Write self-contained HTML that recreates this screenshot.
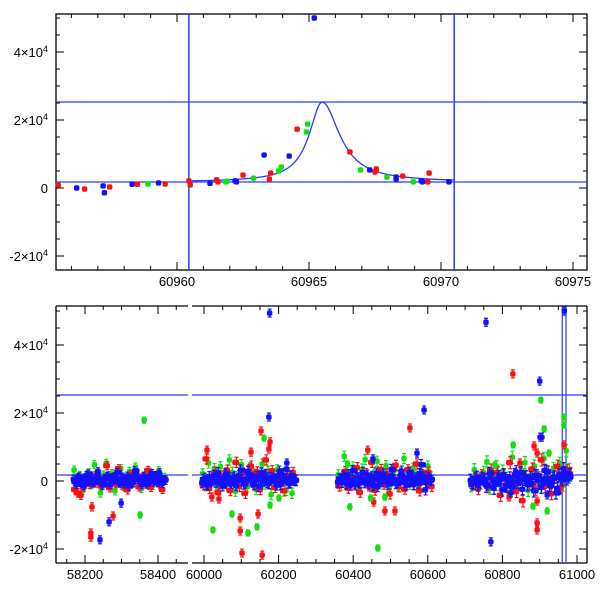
<!DOCTYPE html>
<html><head><meta charset="utf-8"><style>
html,body{margin:0;padding:0;background:#fff;}
svg{display:block;font-family:"Liberation Sans",sans-serif;}
</style></head><body>
<svg id="chart" width="600" height="600" viewBox="0 0 600 600"></svg>
<script>
// ---------- top panel data (MJD, flux) ----------
const topRedT=[60955.5,60956.5,60957.45,60958.5,60959.55,60960.45,60960.5,60961.5,60961.55,60962.5,60963.5,60963.55,60964.55,60966.55,60967.5,60967.55,60968.55,60969.5,60969.55];
const topRedV=[900,-300,300,1100,1200,2100,900,2400,1800,3800,2600,4400,17300,10600,4700,5600,3500,1800,4400];
const topGreenT=[60958.9,60961.85,60961.9,60962.9,60963.85,60963.95,60964.9,60964.95,60966.95,60967.95,60968.95];
const topGreenV=[1200,1800,2000,2900,5000,6200,16500,18800,5300,3200,1800];
const topBlueT=[60956.2,60957.2,60957.25,60958.3,60959.3,60961.25,60962.2,60962.25,60963.3,60964.25,60965.2,60967.3,60968.3,60968.3,60969.25,60969.3,60970.3];
const topBlueV=[0,600,-1400,1100,1500,1400,2100,1800,9700,9400,50000,5300,3200,2600,2100,1800,1800];
// model parameters
const modelPeakT=60965.5, modelPeakV=25300, modelBase=1760, modelWL=0.6, modelWR=0.8;
const modelStart=60960.5, modelEnd=60970.5;
const vLines=[60960.45,60970.5];
const hLines=[25300,1760];
// ---------- bottom panel outliers ----------
const botRedT=[58216,58216,58219,58277,60008,60021,60040,60097,60097,60102,60126,60145,60153,60156,60174,60177,60439,60455,60485,60512,60552,60818,60828,60847,60885,60893,60893,60893,60893,60965];
const botRedV=[-15300,-16500,-7600,-10300,9100,-4700,-5300,-10900,-14700,-21200,8500,-9700,14700,-21800,9400,11500,9100,-6200,-8800,-8800,15600,-4700,31500,5300,10300,8200,-5900,-12300,-14400,10600];
const botGreenT=[58362,58351,60024,60075,60118,60142,60161,60177,60201,60385,60391,60447,60466,60485,60780,60829,60882,60903,60912,60920,60925,60965,60965];
const botGreenV=[17900,-10000,-14400,-9700,-15300,-13500,12600,-7100,-5000,5000,-7600,-5000,-19700,-4700,4700,10600,-7400,23800,15300,-8800,8200,18800,16500];
const botBlueT=[58241,58266,58299,60174,60176,60222,60453,60571,60590,60756,60769,60823,60900,60901,60906,60920,60966];
const botBlueV=[-17300,-12000,-6500,18800,49400,5300,6500,8200,20900,46700,-17900,-3500,29400,12900,12900,-4100,50000];
// ---------- bottom panel dense band (cluster start MJD, spacing, values in 1e3) ----------
const bandStart=[58168,59994,60358,60714];
const bandStep=[8,8,8,8.5];
const bandBlue=[
[0.5,-1,1.2,0.3,-0.8,2,0.6,-0.4,1,0.2,-1.2,0.8,1.5,-0.3,0.4,2.5,-0.6,1.1,0.1,-1.5,0.9,3,0.5,-0.2,1.3,-0.9,0.7,2.2,0.2,-0.5,1,0.4],
[-0.5,0.8,-1.1,0.4,1.6,-0.2,0.9,-1.4,2.1,0.3,-0.7,1.2,0.1,3.2,-0.9,0.6,1.8,-0.3,0.5,-1.6,2.4,0.2,-0.4,1,0.7,-1.2,2.9,0.3,0.8,-0.6,1.5,0.2],
[-0.3,0.6,1.4,-0.8,0.2,3,-1.1,0.9,0.4,-0.5,1.7,0.1,-1.3,2.3,0.5,-0.2,1.1,-0.9,3.4,0.3,-0.4,1.6,0.8,-1.2,2.6,0.2,0.9,-0.6,4.8,1.2,-0.3,0.5],
[0.2,-0.7,1.1,-0.3,0.6,-1.5,2.2,0.4,-0.9,1.3,-2.6,0.7,0.1,-1.8,1.9,-0.4,2.4,0.5,-1.1,0.9,-2.9,1.5,0.3,-0.6,2.8,-1.3,0.8,-3.5,1.7,0.4,2.1,1.2]];
const bandBlue2=[
[-0.2,0.9,0.3,-1.3,1.6,0.1,-0.6,0.8,2.7,-0.4,0.5,1.3,-1,0.2,1.9,-0.3,0.7,-0.8,1.4,0.3,-0.5,2,0.6,-1.1,0.9,0.1,1.7,-0.2,0.5,2.4,-0.7,0.3],
[0.4,-1,1.3,0.2,-0.3,2.4,-0.8,0.6,1.1,-0.2,0.9,-1.3,1.6,0.4,-0.5,2.8,0.3,-0.9,1.2,0.5,-0.1,1.9,-0.7,0.8,0.2,1.4,-1,0.6,3.5,-0.3,0.7,0.1],
[0.5,-0.4,0.9,1.8,-1.2,0.3,0.7,-0.6,2.5,0.1,-0.9,1.2,0.4,-1.6,0.8,2,-0.3,0.6,1.3,-0.7,0.2,2.9,-0.5,0.9,1.5,-1,0.4,2.2,0.7,-2.6,1,0.2],
[-0.4,0.5,-1.2,0.8,0.2,-0.9,1.4,-2.1,0.6,0.3,1.8,-1.5,0.9,-0.3,2.7,0.5,-2.4,1.1,0.2,-0.8,1.6,0.4,-1.9,3.1,0.7,-0.5,1.2,-2.2,0.9,3.6,0.6,1.8]];
const bandRed=[
[-2.5,-3.5,-4.2,-1.8,0.8,-1,1.5,-0.6,2.2,-1.4,0.3,4.5,-2,1,-0.8,3.6,-1.2,0.5,-2.6,1.8,-0.4,2.4,-1.7,0.9,-0.5,3.1,-1.9,0.6,1.4,-0.9,-2.5,0.2],
[-1.1,6.5,-2.2,0.9,2.6,-3.4,1.5,-0.7,3.2,-2.8,0.4,5.5,-1.6,2,-3.6,0.8,4.4,-1.2,2.7,-2.5,1.1,6.2,-0.8,3,-1.9,0.5,2.2,-2.9,1.3,-0.6,2.5,0.3],
[-1.5,0.7,2.8,-2.1,1.2,-0.8,3.9,-3.3,0.6,2.2,-1.4,5.5,-2.7,1,3.4,-0.9,2.1,-3.8,0.8,4.6,-1.7,1.5,-2.4,3.3,0.4,-1.1,5,-2.9,1.7,-0.5,2.6,-1.6],
[-0.9,0.8,-2.2,1.5,0.4,-1.6,3.2,-0.7,2.4,-4.2,1.8,-1.1,5.4,0.6,-3.1,2.1,-5.8,1.3,-0.8,3.5,-2.4,0.9,6.2,-1.6,2.6,-3.7,1.1,4.3,-2,0.7,3,2.2]];
const bandGreen=[
[3.2,-0.5,1.6,-2.8,0.9,2.4,-1.1,4.8,0.3,-3.5,1.7,5.2,-0.8,2.1,-2.9,1.2,3.6,-1.6,0.7,2.8,-0.4,4.1,1,-2.2,1.5,0.4,2.6,-1.3,0.8,3,-0.6,1.1],
[2.1,-1.4,5.3,0.9,3.6,-2.1,4.2,1.5,-0.8,6.2,2.5,-3,1.1,4.8,0.6,-1.7,3.9,2.2,-2.5,1.4,5,-0.9,2.8,-4,1.6,3.3,-1.2,0.8,-2.8,2.4,-3.6,0.5],
[1.8,-1.2,7.3,2.9,-0.6,4.1,1.2,-2.4,3.5,6.3,0.8,-1.7,2.6,5.8,-0.9,1.9,4.5,-2.3,1,3.2,-1.5,2.4,6.6,0.5,-1,3.8,1.4,-2,2.7,0.6,4.4,1.2],
[-1.4,3.3,0.8,-0.6,2.5,5.6,-2.1,1.3,4.2,-1.1,2.9,0.6,-3.5,7,1.8,-0.7,3.1,5.4,-2.8,1.6,4.4,0.9,-1.8,6.6,2.1,-0.4,3.7,1.2,5.2,-1.2,8.9,3.4]];
const bandErr=[1.2,1.5,1.5,1.8];

const NS='http://www.w3.org/2000/svg';
const svg=document.getElementById('chart');
function mk(tag,attrs,parent){const e=document.createElementNS(NS,tag);for(const k in attrs)e.setAttribute(k,attrs[k]);(parent||svg).appendChild(e);return e;}

const COL={red:'#ff1010',green:'#10e010',blue:'#1010ff'};
const LINE='#2a3cff';

const TOP={l:56,r:587,t:14,b:270};
const BOT={l:56,r:587,t:306,b:563};
function xTop(t){return 177+(t-60960)*26.4;}
function yTop(v){return 188-v*68/20000;}
function xBot(t){return t<59500?85+(t-58200)*0.365:204+(t-60000)*0.373;}
function yBot(v){return 481-v*68/20000;}
const BRK1=188,BRK2=192;

function yLabel(g,y,mant,neg){
  const tx=mk('text',{x:48,y:y+5,'text-anchor':'end','font-size':'13',fill:'#000'},g);
  tx.textContent=(neg?'-':'')+mant+'\u00d710';
  const s=mk('tspan',{dy:'-5','font-size':'9'},tx); s.textContent='4';
  
  
}
function yTicks(g,P,yf){
  for(let v=-20000;v<=50000;v+=5000){
    const y=yf(v); if(y<P.t||y>P.b)continue;
    const len=v%20000===0?8:4;
    mk('line',{x1:P.l,x2:P.l+len,y1:y,y2:y,stroke:'#000','stroke-width':1},g);
    mk('line',{x1:P.r,x2:P.r-len,y1:y,y2:y,stroke:'#000','stroke-width':1},g);
    if(v%20000===0){ if(v===0){const tx=mk('text',{x:48,y:y+5,'text-anchor':'end','font-size':'13'},g);tx.textContent='0';}
      else yLabel(g,y,Math.abs(v/10000),v<0);}
  }
}
function pt(g,x,y,c,P,err){
  if(y<P.t+2||y>P.b-2||x<P.l+1||x>P.r-1)return;
  if(err){
    const eb=mk('path',{d:`M${x},${y-err}V${y+err}M${x-2},${y-err}H${x+2}M${x-2},${y+err}H${x+2}`,stroke:c,'stroke-width':1.2,fill:'none'},g);
    
    
  }
  const e=mk('rect',{x:x-2.7,y:y-2.7,width:5.4,height:5.4,rx:1.8,fill:c},g);
  
  
}

// ===== top panel =====
const gTop=mk('g',{});


mk('rect',{x:TOP.l,y:TOP.t,width:TOP.r-TOP.l,height:TOP.b-TOP.t,fill:'none',stroke:'#000','stroke-width':1.3},gTop);
yTicks(gTop,TOP,yTop);
for(let d=60956;d<=60975;d++){
  const x=xTop(d),maj=d%5===0,len=maj?8:4;
  mk('line',{x1:x,x2:x,y1:TOP.b,y2:TOP.b-len,stroke:'#000'},gTop);
  mk('line',{x1:x,x2:x,y1:TOP.t,y2:TOP.t+len,stroke:'#000'},gTop);
  if(maj){const tx=mk('text',{x:x,y:TOP.b+16,'text-anchor':'middle','font-size':'13'},gTop);tx.textContent=d;
    }
}
hLines.forEach(v=>{const l=mk('line',{x1:TOP.l,x2:TOP.r,y1:yTop(v),y2:yTop(v),stroke:LINE,'stroke-width':1.3},gTop);});
vLines.forEach(t=>{const l=mk('line',{x1:xTop(t),x2:xTop(t),y1:TOP.t,y2:TOP.b,stroke:LINE,'stroke-width':1.5},gTop);});
let d='';
for(let t=modelStart;t<=modelEnd+1e-9;t+=0.05){
  const w=t<modelPeakT?modelWL:modelWR;
  const v=modelBase+(modelPeakV-modelBase)/(1+Math.pow((t-modelPeakT)/w,2));
  d+=(d?'L':'M')+xTop(t).toFixed(1)+','+yTop(v).toFixed(1);
}
const curve=mk('path',{d:d,fill:'none',stroke:LINE,'stroke-width':1.3},gTop);


topRedT.forEach((t,i)=>pt(gTop,xTop(t),yTop(topRedV[i]),COL.red,TOP));
topGreenT.forEach((t,i)=>pt(gTop,xTop(t),yTop(topGreenV[i]),COL.green,TOP));
topBlueT.forEach((t,i)=>pt(gTop,xTop(t),yTop(topBlueV[i]),COL.blue,TOP));

// ===== bottom panel =====
const gB=mk('g',{});


[[BOT.l,BRK1],[BRK2,BOT.r]].forEach(s=>{
  mk('line',{x1:s[0],x2:s[1],y1:BOT.t,y2:BOT.t,stroke:'#000','stroke-width':1.3},gB);
  mk('line',{x1:s[0],x2:s[1],y1:BOT.b,y2:BOT.b,stroke:'#000','stroke-width':1.3},gB);
});
mk('line',{x1:BOT.l,x2:BOT.l,y1:BOT.t,y2:BOT.b,stroke:'#000','stroke-width':1.3},gB);
mk('line',{x1:BOT.r,x2:BOT.r,y1:BOT.t,y2:BOT.b,stroke:'#000','stroke-width':1.3},gB);
yTicks(gB,BOT,yBot);
function xt(t){
  const x=xBot(t),maj=t%200===0,len=maj?8:4;
  mk('line',{x1:x,x2:x,y1:BOT.b,y2:BOT.b-len,stroke:'#000'},gB);
  mk('line',{x1:x,x2:x,y1:BOT.t,y2:BOT.t+len,stroke:'#000'},gB);
  if(maj){const tx=mk('text',{x:x,y:BOT.b+16,'text-anchor':'middle','font-size':'13'},gB);tx.textContent=t;
    }
}
for(let t=58150;t<=58450;t+=50)xt(t);
for(let t=60000;t<=61000;t+=50)xt(t);
hLines.forEach(v=>{[[BOT.l,BRK1],[BRK2,BOT.r]].forEach(s=>{const l=mk('line',{x1:s[0],x2:s[1],y1:yBot(v),y2:yBot(v),stroke:LINE,'stroke-width':1.3},gB);});});
vLines.forEach(t=>{const l=mk('line',{x1:xBot(t),x2:xBot(t),y1:BOT.t,y2:BOT.b,stroke:LINE,'stroke-width':1.2},gB);});
function band(arr,c,off,errs){
  arr.forEach((vals,k)=>vals.forEach((v,i)=>{
    const t=bandStart[k]+i*bandStep[k]+off;
    const e=errs?errs[k]*1000*68/20000:0;
    pt(gB,xBot(t),yBot(v*1000),c,BOT,e);
  }));
}
band(bandGreen,COL.green,2,bandErr);
band(bandRed,COL.red,5,bandErr);
band(bandRed,COL.red,1);
botRedT.forEach((t,i)=>pt(gB,xBot(t),yBot(botRedV[i]),COL.red,BOT,4));
botGreenT.forEach((t,i)=>pt(gB,xBot(t),yBot(botGreenV[i]),COL.green,BOT,3));
band(bandBlue,COL.blue,0,bandErr);
band(bandBlue2,COL.blue,4,bandErr);
band(bandBlue2,COL.blue,2);
band(bandBlue,COL.blue,6);
botBlueT.forEach((t,i)=>pt(gB,xBot(t),yBot(botBlueV[i]),COL.blue,BOT,4));
</script>
</body></html>
